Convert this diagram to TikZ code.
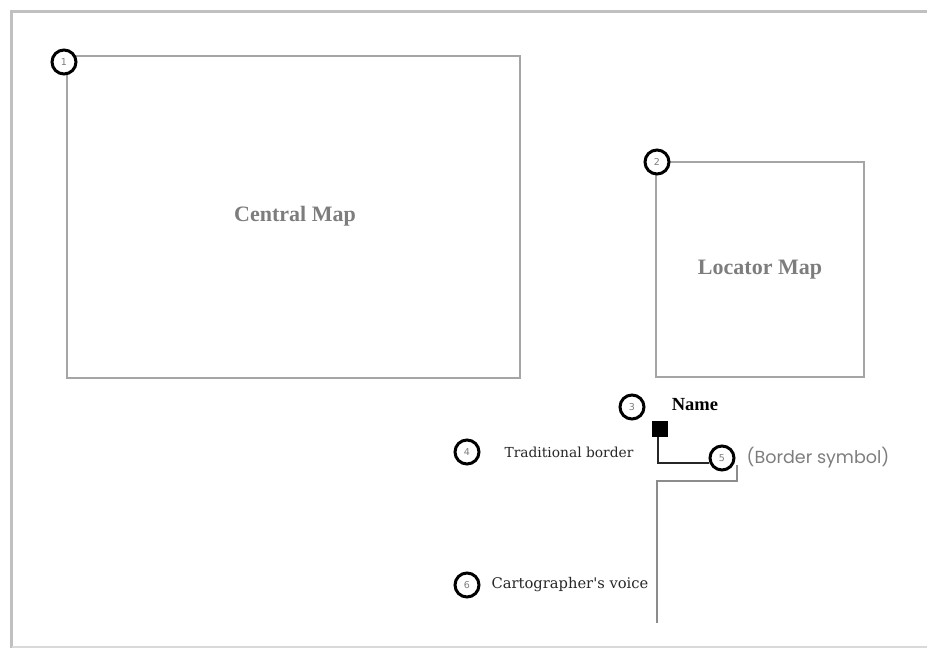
\documentclass[tikz,border=0pt]{standalone}
\usepackage{fontspec}
\setmainfont{Liberation Serif}
\newfontfamily\slabfont{DejaVu Serif}
\newfontfamily\geofont{Poppins}
\newfontfamily\numfont{DejaVu Sans}
\definecolor{framegray}{RGB}{192,192,192}
\definecolor{boxgray}{RGB}{165,165,165}
\definecolor{txtgray}{RGB}{125,125,125}
\definecolor{linegray}{RGB}{140,140,140}
\begin{document}
\begin{tikzpicture}[x=1pt,y=-1pt,
  mapbox/.style={draw=boxgray,line width=1.2pt},
  maptitle/.style={font=\fontsize{22}{26}\selectfont\bfseries,text=txtgray},
  numcirc/.style={circle,draw=black,line width=3pt,fill=white,minimum size=24pt,inner sep=0pt,
     font=\numfont\fontsize{9.5}{10}\selectfont,text=txtgray},
  label/.style={font=\slabfont\fontsize{14}{17}\selectfont,text=black!85},
]
\useasboundingbox (0,0) rectangle (927,648);
% outer frame
\draw[framegray,line width=3pt] (940,11.5) -- (11.5,11.5) -- (11.5,648);
\draw[framegray!60,line width=1.5pt] (11.5,647) -- (940,647);
% central map
\draw[mapbox] (67,56) rectangle (520,378);
\node[maptitle] (central) at (295,216) {Central Map};
\node[numcirc] (c1) at (64,62) {1};
% locator map
\draw[mapbox] (656,162) rectangle (864,377);
\node[maptitle] (locator) at (760,270) {Locator Map};
\node[numcirc] (c2) at (657,162) {2};
% name
\node[numcirc] (c3) at (632,407) {3};
\node[font=\fontsize{18.5}{22}\selectfont\bfseries] (name) at (695,405) {Name};
% square and border symbol
\node[numcirc] (c4) at (467,452) {4};
\node[label,font=\slabfont\fontsize{13.8}{17}\selectfont] (trad) at (569,452) {Traditional border};
\node[fill=black,minimum size=16pt,inner sep=0pt] (sq) at (659.5,428.5) {};
\node[numcirc] (c5) at (722,458) {5};
\node[font=\geofont\fontsize{17.5}{20}\selectfont,text=txtgray] (bsym) at (818,458) {(Border symbol)};
\draw[black!85,line width=2.8pt] ([xshift=-1.5pt]sq.south) |- ([yshift=-5pt]c5.west);
\coordinate (g1) at (737,465);
\coordinate (g2) at (657,481);
\coordinate (g3) at (657,623);
\draw[linegray,line width=2.2pt] (g1) |- (g2) -- (g3);
% cartographer's voice
\node[numcirc] (c6) at (467,585) {6};
\node[label,font=\slabfont\fontsize{14.7}{17}\selectfont] (voice) at (570,585) {Cartographer's voice};
\end{tikzpicture}
\end{document}
